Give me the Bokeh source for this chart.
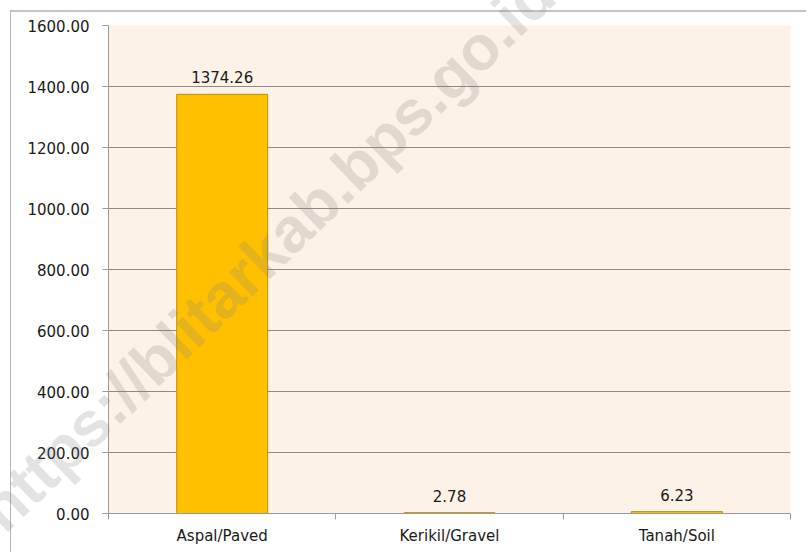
import math
from bokeh.plotting import figure
from bokeh.layouts import column
from bokeh.models import Range1d, FixedTicker, PrintfTickFormatter, ColumnDataSource, Div
from bokeh.core.properties import value
from bokeh.embed import file_html
from bokeh.resources import INLINE

categories = ["Aspal/Paved", "Kerikil/Gravel", "Tanah/Soil"]
lengths = [1374.26, 2.78, 6.23]
y_ticks = [0, 200, 400, 600, 800, 1000, 1200, 1400, 1600]
watermark = "https://blitarkab.bps.go.id"

FONT = "DejaVu Sans"
W, H = 801, 547
xs = [i + 0.5 for i in range(len(categories))]

p = figure(width=W, height=H, output_backend="svg", toolbar_location=None,
           x_range=Range1d(0, len(categories)), y_range=Range1d(0, 1600),
           min_border_left=108, min_border_right=11, min_border_top=25, min_border_bottom=33)
p.background_fill_color = "#FDF2E7"
p.border_fill_color = "white"
p.outline_line_color = None

src = ColumnDataSource(dict(x=xs, top=lengths, label=["%.2f" % v for v in lengths]))
p.vbar(x="x", top="top", bottom=0, width=0.4, source=src,
       fill_color="#FFC000", line_color="#BF9000", line_width=1)
p.text(x="x", y="top", text="label", source=src, text_align="center",
       text_baseline="alphabetic", y_offset=-17, text_font=value(FONT),
       text_font_size="15px", text_color="#1a1a1a")

# y axis
p.yaxis.ticker = FixedTicker(ticks=y_ticks)
p.yaxis.formatter = PrintfTickFormatter(format="%.2f")
p.yaxis.major_label_text_font = FONT
p.yaxis.major_label_text_font_size = "15px"
p.yaxis.major_label_text_color = "#1a1a1a"
p.yaxis.axis_line_color = "#9a9a9a"
p.yaxis.major_tick_line_color = "#9a9a9a"
p.yaxis.major_tick_out = 6
p.yaxis.major_tick_in = 0
p.yaxis.minor_tick_line_color = None
p.yaxis.major_label_standoff = 13

# x axis: labels at centres, ticks at category boundaries
p.xaxis.ticker = FixedTicker(ticks=xs, minor_ticks=list(range(len(categories) + 1)))
p.xaxis.major_label_overrides = {x: c for x, c in zip(xs, categories)}
p.xaxis.major_label_text_font = FONT
p.xaxis.major_label_text_font_size = "15px"
p.xaxis.major_label_text_color = "#1a1a1a"
p.xaxis.axis_line_color = "#9a9a9a"
p.xaxis.major_tick_line_color = None
p.xaxis.major_tick_out = 6
p.xaxis.major_tick_in = 0
p.xaxis.minor_tick_line_color = "#9a9a9a"
p.xaxis.minor_tick_out = 6
p.xaxis.minor_tick_in = 0
p.xaxis.major_label_standoff = 7

p.xgrid.grid_line_color = None
p.ygrid.grid_line_color = "#8f8a86"
p.ygrid.grid_line_width = 1

# chart-area border (top and left edges) as in the source image
frame_div = Div(text="", width=1, height=1,
                styles={"position": "absolute", "left": "5px", "top": "5px",
                        "width": f"{W - 5}px", "height": f"{H - 5}px",
                        "border-top": "2px solid #c4c4c4", "border-left": "1px solid #b4b4b4",
                        "pointer-events": "none", "overflow": "visible"})

# diagonal watermark over the whole chart
wm_html = ('<div style="white-space:nowrap;font-family:\'Liberation Sans\';font-weight:bold;'
           'font-size:63px;line-height:63px;color:rgba(128,128,128,0.22);'
           'transform-origin:0px 53px;transform:rotate(-44deg);">' + watermark + '</div>')
wm_div = Div(text=wm_html, width=1, height=1,
             styles={"position": "absolute", "left": "0px", "top": "477px",
                     "overflow": "visible", "pointer-events": "none"})

layout = column(p, frame_div, wm_div, styles={"position": "relative"}, width=W, height=H)

open("out.html", "w").write(file_html(layout, INLINE))
